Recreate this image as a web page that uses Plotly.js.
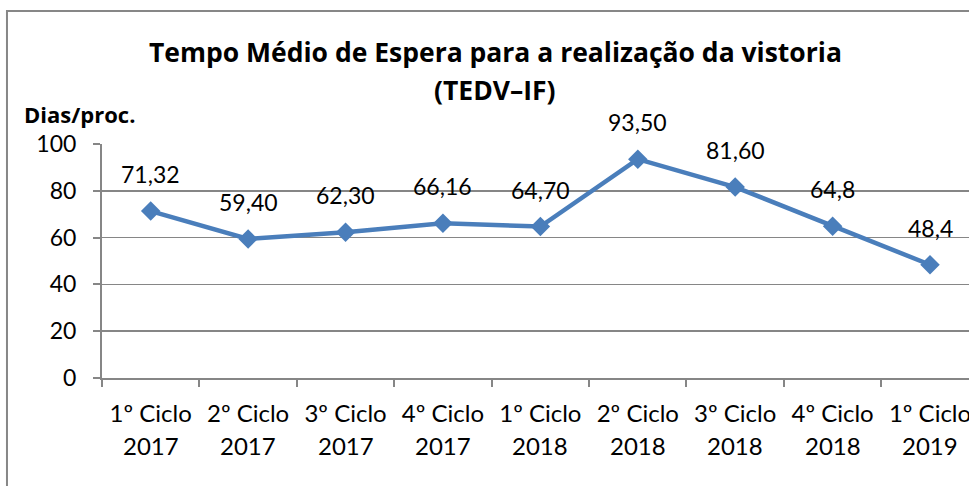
<!DOCTYPE html>
<html>
<head>
<meta charset="utf-8">
<script src="https://cdn.plot.ly/plotly-3.0.1.min.js"></script>
<style>html,body{margin:0;padding:0;background:#fff;}#chart{width:969px;height:486px;}</style>
</head>
<body>
<div id="chart"></div>
<script>
var categories = ["1º Ciclo 2017","2º Ciclo 2017","3º Ciclo 2017","4º Ciclo 2017","1º Ciclo 2018","2º Ciclo 2018","3º Ciclo 2018","4º Ciclo 2018","1º Ciclo 2019"];
var cycleLabels = ["1º Ciclo","2º Ciclo","3º Ciclo","4º Ciclo","1º Ciclo","2º Ciclo","3º Ciclo","4º Ciclo","1º Ciclo"];
var yearLabels = ["2017","2017","2017","2017","2018","2018","2018","2018","2019"];
var values = [71.32, 59.40, 62.30, 66.16, 64.70, 93.50, 81.60, 64.8, 48.4];
var valueLabels = ["71,32","59,40","62,30","66,16","64,70","93,50","81,60","64,8","48,4"];
var titleLine1 = "Tempo Médio de Espera para a realização da vistoria";
var titleLine2 = "(TEDV–IF)";
var yLabel = "Dias/proc.";
var yTicks = [0, 20, 40, 60, 80, 100];

var FONT = "Lato, 'Open Sans', sans-serif";
var BOLD = "'Open Sans', Lato, sans-serif";
var annotations = [];
for (var i = 0; i < values.length; i++) {
  annotations.push({x: categories[i], y: values[i], xref: 'x', yref: 'y', text: valueLabels[i],
    showarrow: false, yshift: 37, font: {family: FONT, size: 23, color: '#000'}});
  annotations.push({x: categories[i], y: 0, xref: 'x', yref: 'paper', text: yearLabels[i],
    showarrow: false, yanchor: 'middle', yshift: -67, font: {family: FONT, size: 24, color: '#000'}});
}
annotations.push({xref: 'paper', yref: 'paper', x: 0.4533, y: 1.393, text: '<b>' + titleLine1 + '</b>',
  showarrow: false, xanchor: 'center', yanchor: 'middle', font: {family: BOLD, size: 26.5, color: '#000'}});
annotations.push({xref: 'paper', yref: 'paper', x: 0.4533, y: 1.2308, text: '<b>' + titleLine2 + '</b>',
  showarrow: false, xanchor: 'center', yanchor: 'middle', font: {family: BOLD, size: 26.5, color: '#000'}});
annotations.push({xref: 'paper', yref: 'paper', x: -0.0265, y: 1.128, text: '<b>' + yLabel + '</b>',
  showarrow: false, xanchor: 'center', yanchor: 'middle', font: {family: BOLD, size: 22, color: '#000'}});

var trace = {
  x: categories, y: values, type: 'scatter', mode: 'lines+markers',
  line: {color: '#4A7EBB', width: 4.5},
  marker: {symbol: 'diamond', size: 15, color: '#4A7EBB'},
  hoverinfo: 'none'
};

var layout = {
  width: 969, height: 486,
  margin: {l: 102, r: 0, t: 144, b: 108, pad: 0},
  paper_bgcolor: '#fff', plot_bgcolor: '#fff',
  showlegend: false,
  font: {family: FONT, size: 23, color: '#000'},
  xaxis: {
    type: 'category', range: [-0.5, 8.4],
    tickmode: 'array', tickvals: categories, ticktext: cycleLabels,
    showgrid: false, showline: true, linecolor: '#868686', linewidth: 2,
    ticks: 'outside', ticklen: 7, tickwidth: 2, tickcolor: '#868686', tickson: 'boundaries',
    ticklabelstandoff: 13,
    tickfont: {family: FONT, size: 24, color: '#000'}, zeroline: false
  },
  yaxis: {
    range: [0, 100], tickvals: yTicks, ticktext: yTicks.map(String),
    showgrid: true, gridcolor: '#868686', gridwidth: 1.5,
    showline: true, linecolor: '#868686', linewidth: 2,
    ticks: 'outside', ticklen: 7, tickwidth: 2, tickcolor: '#868686',
    ticklabelstandoff: 12,
    tickfont: {family: FONT, size: 23, color: '#000'}, zeroline: false
  },
  shapes: [{type: 'rect', xref: 'paper', yref: 'paper', x0: -0.1096, x1: 1.3, y0: -1, y1: 1.568,
    line: {color: '#878787', width: 2}, fillcolor: 'rgba(0,0,0,0)', layer: 'below'}],
  annotations: annotations
};

Plotly.newPlot('chart', [trace], layout, {displayModeBar: false, staticPlot: true});
</script>
</body>
</html>
